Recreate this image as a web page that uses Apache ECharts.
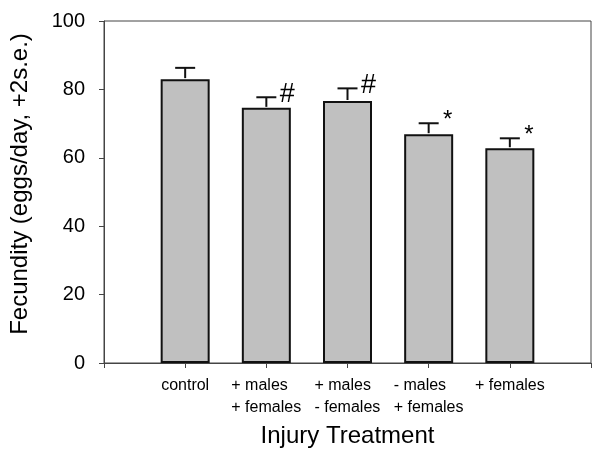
<!DOCTYPE html>
<html><head><meta charset="utf-8">
<script src="https://cdn.jsdelivr.net/npm/echarts@6/dist/echarts.min.js"></script>
<style>html,body{margin:0;padding:0;background:#fff}#c{width:602px;height:456px}</style>
</head><body><div id="c"></div>
<script>
const categories = ['control', '+ males\n+ females', '+ males\n- females', '- males\n+ females', '+ females'];
const positions = [1, 2, 3, 4, 5];
const means = [83.0, 74.6, 76.6, 66.9, 62.8];
const errors = [3.3, 3.1, 3.7, 3.2, 2.9];
const marks = ['', '#', '#', '*', '*'];
const yTicks = [0, 20, 40, 60, 80, 100];

const font = 'Liberation Sans, Arial, sans-serif';
const catFontSize = 16;
const ctx = document.createElement('canvas').getContext('2d');
ctx.font = catFontSize + 'px ' + font;
const rich = {};
categories.forEach((c, i) => {
  const w = Math.max(...c.split('\n').map(l => ctx.measureText(l).width));
  rich['l' + i] = {width: Math.ceil(w), align: 'left', fontFamily: font, fontSize: catFontSize, color: '#000', lineHeight: 22};
});

const chart = echarts.init(document.getElementById('c'));
chart.setOption({
  animation: false,
  grid: {left: 103, top: 21, right: 11, bottom: 93, show: true, borderColor: '#444', borderWidth: 1},
  xAxis: {
    type: 'value', min: 0, max: 6, interval: 1,
    name: 'Injury Treatment', nameLocation: 'middle', nameGap: 53,
    nameTextStyle: {fontFamily: font, fontSize: 24, color: '#000'},
    axisLine: {show: true, onZero: false, lineStyle: {color: '#444', width: 1}},
    axisTick: {show: true, length: 5, lineStyle: {color: '#444'}},
    splitLine: {show: false},
    axisLabel: {
      fontFamily: font, fontSize: catFontSize, color: '#000', margin: 12, lineHeight: 22,
      rich,
      formatter: v => {
        const i = positions.indexOf(v);
        if (i < 0) return '';
        const lines = categories[i].split('\n');
        if (lines.length === 1) return lines[0];
        return lines.map(l => '{l' + i + '|' + l + '}').join('\n');
      }
    }
  },
  yAxis: {
    type: 'value', min: yTicks[0], max: yTicks[yTicks.length - 1], interval: 20,
    name: 'Fecundity (eggs/day, +2s.e.)', nameLocation: 'middle', nameGap: 72,
    nameTextStyle: {fontFamily: font, fontSize: 24, color: '#000', padding: [0, 0, 0, 16]},
    axisLine: {show: true, lineStyle: {color: '#444', width: 1}},
    axisTick: {show: true, length: 5, lineStyle: {color: '#444'}},
    splitLine: {show: false},
    axisLabel: {fontFamily: font, fontSize: 20, color: '#000', margin: 19}
  },
  series: [
    {
      type: 'bar', barWidth: 49,
      data: positions.map((p, i) => [p, means[i]]),
      itemStyle: {color: '#c0c0c0', borderColor: '#111', borderWidth: 2},
      z: 2
    },
    {
      type: 'custom', z: 3,
      data: positions.map((p, i) => [p, means[i], means[i] + errors[i], i]),
      renderItem: (params, api) => {
        const x = api.value(0);
        const base = api.coord([x, api.value(1)]);
        const top = api.coord([x, api.value(2)]);
        const i = api.value(3);
        const children = [
          {type: 'line', shape: {x1: base[0], y1: base[1] - 1, x2: top[0], y2: top[1]}, style: {stroke: '#111', lineWidth: 2}},
          {type: 'line', shape: {x1: top[0] - 10, y1: top[1], x2: top[0] + 10, y2: top[1]}, style: {stroke: '#111', lineWidth: 2}}
        ];
        const m = marks[i];
        if (m === '#') {
          children.push({type: 'text', style: {text: m, x: top[0] + 21, y: top[1] - 3, align: 'center', verticalAlign: 'middle', font: '27px ' + font, fill: '#000'}});
        } else if (m === '*') {
          children.push({type: 'text', style: {text: m, x: top[0] + 19, y: top[1] - 3, align: 'center', verticalAlign: 'middle', font: '24px ' + font, fill: '#000'}});
        }
        return {type: 'group', children};
      }
    }
  ]
});
</script></body></html>
